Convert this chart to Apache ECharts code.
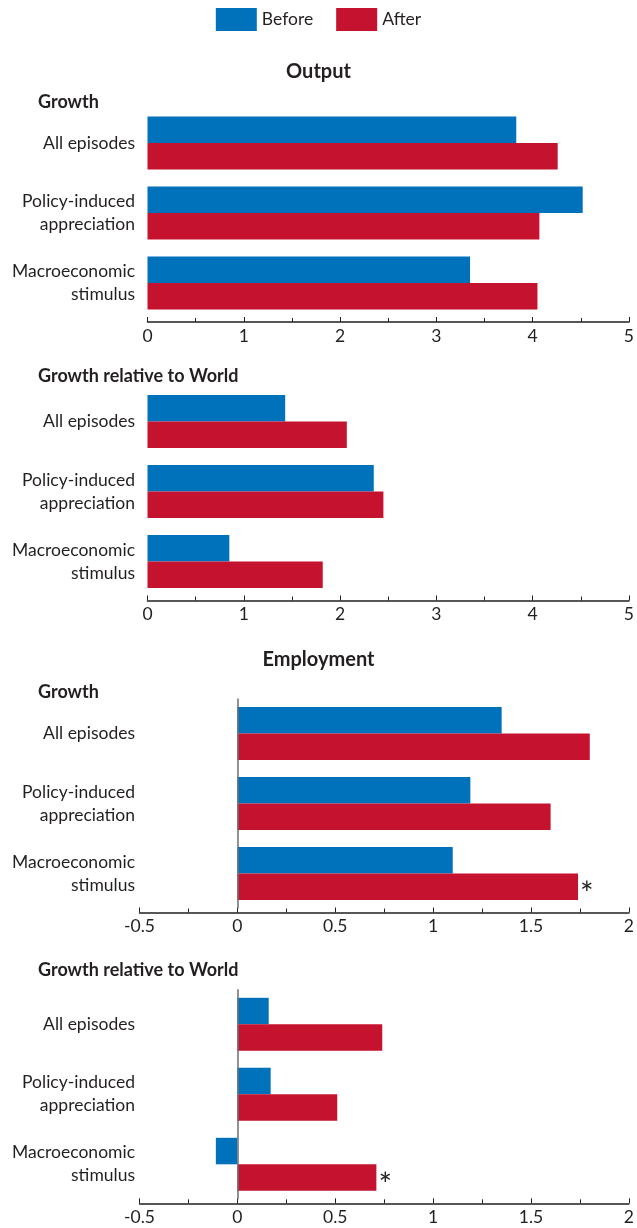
<!DOCTYPE html>
<html><head><meta charset="utf-8">
<script src="https://cdn.jsdelivr.net/npm/echarts@6/dist/echarts.min.js"></script>
<style>html,body{margin:0;padding:0;background:#fff}#c{width:637px;height:1228px}</style>
</head><body><div id="c"></div>
<script>
const categories = ['All episodes', 'Policy-induced\nappreciation', 'Macroeconomic\nstimulus'];
const seriesNames = ['Before', 'After'];
// Output
const outputGrowthBefore = [3.83, 4.52, 3.35];
const outputGrowthAfter  = [4.26, 4.07, 4.05];
const outputRelBefore    = [1.43, 2.35, 0.85];
const outputRelAfter     = [2.07, 2.45, 1.82];
// Employment
const empGrowthBefore = [1.35, 1.19, 1.10];
const empGrowthAfter  = [1.80, 1.60, 1.74];
const empRelBefore    = [0.16, 0.17, -0.11];
const empRelAfter     = [0.74, 0.51, 0.71];
// significance marks on "After" bars
const noMarks = ['', '', ''];
const empGrowthMarks = ['', '', '*'];
const empRelMarks = ['', '', '*'];
// tick labels
const outputTicks = [0, 1, 2, 3, 4, 5];
const employmentTicks = [-0.5, 0, 0.5, 1, 1.5, 2];

const FONT = 'Lato';
const TXT = '#231f20';
const BLUE = '#0072bc';
const RED = '#c4122f';
const LABEL_RIGHT = 135;

const panels = [
  {top: 108,   left: 147.5, before: outputGrowthBefore, after: outputGrowthAfter, marks: noMarks, ticks: outputTicks, zero: false},
  {top: 386.5, left: 147.5, before: outputRelBefore,    after: outputRelAfter,    marks: noMarks, ticks: outputTicks, zero: false},
  {top: 698.5, left: 139.5, before: empGrowthBefore,    after: empGrowthAfter,    marks: empGrowthMarks, ticks: employmentTicks, zero: true},
  {top: 989.3, left: 139.5, before: empRelBefore,       after: empRelAfter,       marks: empRelMarks, ticks: employmentTicks, zero: true}
];

const grid = [], xAxis = [], yAxis = [], series = [];
panels.forEach((p, i) => {
  grid.push({left: p.left, right: 6, top: p.top, height: 210, containLabel: false});
  xAxis.push({
    type: 'value', gridIndex: i,
    min: p.ticks[0], max: p.ticks[p.ticks.length - 1], interval: p.ticks[1] - p.ticks[0],
    offset: 4,
    axisLine: {show: true, onZero: false, lineStyle: {color: TXT, width: 1.5}},
    axisTick: {show: true, inside: true, length: 5, lineStyle: {color: TXT, width: 1}},
    minorTick: {show: true, splitNumber: 2, length: 4, lineStyle: {color: TXT, width: 1}},
    splitLine: {show: false},
    axisLabel: {fontFamily: FONT, fontSize: 17.5, color: TXT, margin: 5}
  });
  yAxis.push({
    type: 'category', gridIndex: i, data: categories, inverse: true,
    axisLine: {show: false}, axisTick: {show: false}, splitLine: {show: false},
    axisLabel: {fontFamily: FONT, fontSize: 17.5, color: TXT, lineHeight: 23, margin: p.left - LABEL_RIGHT, align: 'right'}
  });
  const b = {
    name: seriesNames[0], type: 'bar', xAxisIndex: i, yAxisIndex: i,
    data: p.before, barWidth: 26.5, barGap: '0%', itemStyle: {color: BLUE}, z: 2
  };
  if (p.zero) {
    b.markLine = {
      silent: true, symbol: 'none', label: {show: false},
      lineStyle: {color: '#6d6e71', width: 1.5, type: 'solid'},
      data: [{xAxis: 0}]
    };
  }
  series.push(b);
  series.push({
    name: seriesNames[1], type: 'bar', xAxisIndex: i, yAxisIndex: i,
    data: p.after.map((v, k) => p.marks[k] ? {value: v, label: {show: true, formatter: p.marks[k]}} : v),
    barWidth: 26.5, barGap: '0%', itemStyle: {color: RED}, z: 2,
    label: {show: false, position: 'right', distance: 2, fontFamily: FONT, fontSize: 32, color: TXT, offset: [0, 8]}
  });
});

const titleStyle = (size) => ({fontFamily: FONT, fontWeight: 'bold', fontSize: size, color: TXT});
const option = {
  animation: false,
  legend: {
    data: seriesNames, top: 3, left: 'center', icon: 'rect',
    itemWidth: 41, itemHeight: 23, itemGap: 23,
    textStyle: {fontFamily: FONT, fontSize: 17.5, color: TXT}
  },
  title: [
    {text: 'Output', left: 'center', top: 57, textStyle: titleStyle(20)},
    {text: 'Growth', left: 33, top: 88, textStyle: titleStyle(18)},
    {text: 'Growth relative to World', left: 33, top: 362, textStyle: titleStyle(18)},
    {text: 'Employment', left: 'center', top: 645, textStyle: titleStyle(20)},
    {text: 'Growth', left: 33, top: 678, textStyle: titleStyle(18)},
    {text: 'Growth relative to World', left: 33, top: 956, textStyle: titleStyle(18)}
  ],
  grid, xAxis, yAxis, series
};
echarts.init(document.getElementById('c'), null, {renderer: 'canvas'}).setOption(option);
</script></body></html>
